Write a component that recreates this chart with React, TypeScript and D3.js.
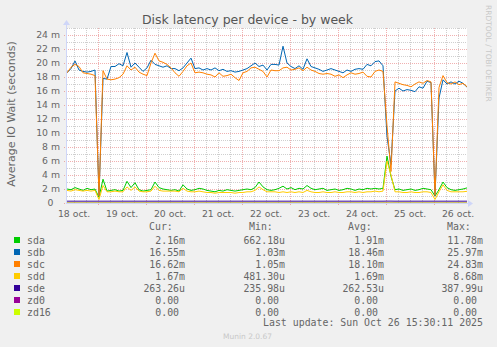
import React from 'react';
import * as d3 from 'd3';

// ---------- data (milliseconds of IO wait, 2-hour steps from 18 oct 08:30) ----------
const START = new Date(2025, 9, 18, 8, 30);
const END = new Date(2025, 9, 26, 16, 30);
const STEP_HOURS = 2;

const sda = [
  2.0, 1.9, 2.2, 2.0, 1.8, 2.1, 1.9, 2.0, 0.8, 3.4,
  1.7, 1.8, 1.9, 1.7, 1.8, 3.1, 2.2, 2.9, 1.9, 1.7,
  1.8, 1.9, 3.0, 2.2, 2.0, 1.9, 1.8, 1.9, 1.7, 2.6,
  2.0, 1.8, 1.9, 2.1, 2.0, 1.8, 1.7, 1.6, 1.8, 1.7,
  1.9, 1.8, 1.7, 1.8, 1.9, 2.0, 1.9, 2.2, 3.0, 2.3,
  1.9, 1.8, 1.9, 2.1, 2.4, 2.0, 2.2, 1.9, 2.1, 2.0,
  2.5, 2.1, 1.9, 2.0, 2.1, 1.8, 1.9, 2.0, 1.8, 1.9,
  2.1, 2.0, 1.8, 2.0, 1.9, 2.1, 2.0, 2.1, 2.0, 2.1,
  6.7, 3.8, 1.9, 2.0, 1.8, 1.9, 2.0, 1.8, 1.9, 2.1,
  2.0, 1.9, 1.0, 1.9, 3.0, 2.2, 1.9, 1.8, 1.9, 2.0,
  2.16,
];
const sdb = [
  18.6, 19.2, 20.3, 19.0, 18.8, 18.7, 18.8, 19.0, 1.03, 17.8,
  17.7, 19.5, 19.5, 19.9, 19.6, 21.5, 19.4, 20.0, 19.4, 18.8,
  19.3, 20.4, 19.8, 19.6, 19.4, 19.6, 19.2, 19.2, 18.9, 19.3,
  20.0, 20.7, 19.2, 19.3, 19.0, 19.2, 19.0, 19.3, 18.9, 19.1,
  18.8, 18.9, 18.7, 18.8, 19.0, 19.2, 19.6, 20.0, 19.5, 19.7,
  19.0, 19.8, 19.8, 19.7, 22.4, 20.0, 19.5, 19.2, 19.6, 19.1,
  20.6, 19.5, 19.3, 19.1, 18.8, 19.0, 19.2, 19.0, 18.8, 18.6,
  19.0, 18.8, 19.1, 19.2, 19.1, 19.8, 19.6, 20.2, 20.3, 19.6,
  9.5, 5.5, 16.0, 16.4, 16.0, 16.2, 16.1, 15.9, 16.6, 16.4,
  17.4, 17.2, 1.1, 15.0, 17.6, 17.0, 17.3, 17.0, 17.4, 17.1,
  16.55,
];
const sdc = [
  18.6, 19.4, 19.8, 19.5, 18.6, 18.5, 18.4, 18.2, 1.05, 18.9,
  17.7, 17.6, 17.7, 17.9, 18.4, 19.6, 19.0, 19.4, 18.7, 18.4,
  18.2, 20.0, 21.4, 20.3, 20.1, 19.8, 19.3, 18.6, 18.1, 18.8,
  19.6, 20.0, 18.6, 18.7, 18.6, 18.4, 18.3, 18.0, 18.6, 18.1,
  18.2, 18.4, 17.9, 17.5, 18.6, 18.8, 19.3, 19.4, 19.1, 18.8,
  18.0, 19.0, 18.9, 18.9, 19.3, 19.4, 19.0, 19.1, 19.3, 18.9,
  19.4, 19.0, 18.8, 18.5, 18.4, 18.5, 18.4, 18.1, 18.3, 17.9,
  18.3, 18.6, 18.4, 18.5, 18.7, 18.1, 18.0, 18.8, 19.0, 18.8,
  11.0, 4.5, 17.3, 17.1, 16.9, 16.8, 16.6, 17.0, 17.3, 17.1,
  17.5, 17.3, 1.1, 16.5, 18.2, 17.2, 17.0, 17.3, 16.9, 17.1,
  16.62,
];
const sdd = [
  1.8, 1.7, 1.9, 1.8, 1.7, 1.8, 1.7, 1.8, 0.5, 2.5,
  1.6, 1.6, 1.7, 1.6, 1.6, 2.3, 1.8, 2.3, 1.7, 1.6,
  1.6, 1.7, 2.4, 1.8, 1.7, 1.7, 1.7, 1.7, 1.6, 2.1,
  1.7, 1.6, 1.6, 1.7, 1.6, 1.5, 1.5, 1.4, 1.5, 1.5,
  1.5, 1.5, 1.4, 1.5, 1.5, 1.6, 1.6, 1.8, 2.3, 1.9,
  1.6, 1.6, 1.6, 1.5, 1.6, 1.5, 1.6, 1.5, 1.6, 1.5,
  1.8, 1.6, 1.5, 1.5, 1.6, 1.5, 1.5, 1.6, 1.5, 1.5,
  1.6, 1.6, 1.5, 1.6, 1.5, 1.6, 1.6, 1.7, 1.6, 1.7,
  6.0, 4.0, 1.6, 1.6, 1.5, 1.5, 1.6, 1.5, 1.5, 1.6,
  1.6, 1.5, 0.5, 1.6, 2.6, 1.8, 1.6, 1.6, 1.6, 1.6,
  1.67,
];
const sde = [
  0.26, 0.26, 0.26, 0.26, 0.26, 0.26, 0.26, 0.26, 0.26, 0.26,
  0.26, 0.26, 0.26, 0.26, 0.26, 0.26, 0.26, 0.26, 0.26, 0.26,
  0.26, 0.26, 0.26, 0.26, 0.26, 0.26, 0.26, 0.26, 0.26, 0.26,
  0.26, 0.26, 0.26, 0.26, 0.26, 0.26, 0.26, 0.26, 0.26, 0.26,
  0.26, 0.26, 0.26, 0.26, 0.26, 0.26, 0.26, 0.26, 0.26, 0.26,
  0.26, 0.26, 0.26, 0.26, 0.26, 0.26, 0.26, 0.26, 0.26, 0.26,
  0.26, 0.26, 0.26, 0.26, 0.26, 0.26, 0.26, 0.26, 0.26, 0.26,
  0.26, 0.26, 0.26, 0.26, 0.26, 0.26, 0.26, 0.26, 0.26, 0.26,
  0.27, 0.27, 0.26, 0.26, 0.26, 0.26, 0.26, 0.26, 0.26, 0.26,
  0.26, 0.26, 0.26, 0.26, 0.26, 0.26, 0.26, 0.26, 0.26, 0.26,
  0.26,
];
const zd0 = [
  0, 0, 0, 0, 0, 0, 0, 0, 0, 0, 0, 0, 0, 0, 0, 0, 0, 0, 0, 0,
  0, 0, 0, 0, 0, 0, 0, 0, 0, 0, 0, 0, 0, 0, 0, 0, 0, 0, 0, 0,
  0, 0, 0, 0, 0, 0, 0, 0, 0, 0, 0, 0, 0, 0, 0, 0, 0, 0, 0, 0,
  0, 0, 0, 0, 0, 0, 0, 0, 0, 0, 0, 0, 0, 0, 0, 0, 0, 0, 0, 0,
  0, 0, 0, 0, 0, 0, 0, 0, 0, 0, 0, 0, 0, 0, 0, 0, 0, 0, 0, 0,
  0,
];
const zd16 = [
  0, 0, 0, 0, 0, 0, 0, 0, 0, 0, 0, 0, 0, 0, 0, 0, 0, 0, 0, 0,
  0, 0, 0, 0, 0, 0, 0, 0, 0, 0, 0, 0, 0, 0, 0, 0, 0, 0, 0, 0,
  0, 0, 0, 0, 0, 0, 0, 0, 0, 0, 0, 0, 0, 0, 0, 0, 0, 0, 0, 0,
  0, 0, 0, 0, 0, 0, 0, 0, 0, 0, 0, 0, 0, 0, 0, 0, 0, 0, 0, 0,
  0, 0, 0, 0, 0, 0, 0, 0, 0, 0, 0, 0, 0, 0, 0, 0, 0, 0, 0, 0,
  0,
];

const deviceNames = ['sda', 'sdb', 'sdc', 'sdd', 'sde', 'zd0', 'zd16'];
const deviceColors = ['#00CC00', '#0066B3', '#FF8000', '#FFCC00', '#330099', '#990099', '#CCFF00'];
const deviceSeries = [sda, sdb, sdc, sdd, sde, zd0, zd16];
const curVals = ['2.16m', '16.55m', '16.62m', '1.67m', '263.26u', '0.00', '0.00'];
const minVals = ['662.18u', '1.03m', '1.05m', '481.30u', '235.98u', '0.00', '0.00'];
const avgVals = ['1.91m', '18.46m', '18.10m', '1.69m', '262.53u', '0.00', '0.00'];
const maxVals = ['11.78m', '25.97m', '24.83m', '8.68m', '387.99u', '0.00', '0.00'];

const yTicks = [0, 2, 4, 6, 8, 10, 12, 14, 16, 18, 20, 22, 24];
const yTickLabels = ['0', '2 m', '4 m', '6 m', '8 m', '10 m', '12 m', '14 m', '16 m', '18 m', '20 m', '22 m', '24 m'];
const Y_MAX = 25;

const TITLE = 'Disk latency per device - by week';
const Y_LABEL = 'Average IO Wait (seconds)';
const LAST_UPDATE = 'Last update: Sun Oct 26 15:30:11 2025';

// ---------- layout ----------
const W = 497, H = 347;
const PL = 67, PR = 467, PT = 28, PB = 203;
const FONT = 'DejaVu Sans, Verdana, sans-serif';
const MONO = 'DejaVu Sans Mono, monospace';
const TXT = '#666666';
const CW = 5.96;
const MINOR_GRID = 'rgba(140,140,140,0.42)';
const MAJOR_GRID = 'rgba(222,79,79,0.45)';

export default function App() {
  const times = sda.map((_, i) => d3.timeHour.offset(START, i * STEP_HOURS));
  const x = d3.scaleTime().domain([START, END]).range([PL, PR]);
  const y = d3.scaleLinear().domain([0, Y_MAX]).range([PB, PT]);

  const dayTicks = d3.timeDay.range(d3.timeDay.ceil(START), END);
  const sixHour = d3.timeHour.every(6)!.range(START, END).filter((d) => d.getHours() !== 0);
  const noonTicks = d3.timeDay.range(d3.timeDay.floor(START), END).map((d) => d3.timeHour.offset(d, 12)).filter((d) => d >= START && d <= END);
  const fmt = d3.timeFormat('%d oct.');
  const minorY = d3.range(1, Y_MAX + 1, 2);

  const line = (vals: number[]) =>
    d3.line<number>().x((_, i) => x(times[i])).y((v) => y(v))(vals) || '';

  const px = (v: number) => Math.round(v) + 0.5;
  const valueX = (colEnd: number, s: string) => (/[0-9]$/.test(s) ? colEnd - CW : colEnd);

  const cols = [
    { head: 'Cur:', headX: 149, end: 185, vals: curVals },
    { head: 'Min:', headX: 249, end: 285, vals: minVals },
    { head: 'Avg:', headX: 348, end: 384, vals: avgVals },
    { head: 'Max:', headX: 447, end: 483, vals: maxVals },
  ];

  return (
    <div style={{ position: 'absolute', left: 0, top: 0 }}>
      <svg width={W} height={H} viewBox={`0 0 ${W} ${H}`} style={{ display: 'block' }}>
        <rect x={0} y={0} width={W} height={H} fill="#F0F0F0" />
        <rect x={PL} y={PT} width={PR - PL} height={PB - PT} fill="#FFFFFF" />

        {/* minor grid */}
        {minorY.map((v) => (
          <line key={'my' + v} x1={PL} x2={PR} y1={px(y(v))} y2={px(y(v))} stroke={MINOR_GRID} strokeDasharray="1,1" />
        ))}
        {sixHour.map((d, i) => (
          <line key={'mx' + i} x1={px(x(d))} x2={px(x(d))} y1={PT} y2={PB} stroke={MINOR_GRID} strokeDasharray="1,1" />
        ))}
        {/* major grid */}
        {yTicks.map((v) => (
          <line key={'My' + v} x1={PL - 3} x2={PR} y1={px(y(v))} y2={px(y(v))} stroke={MAJOR_GRID} strokeDasharray="1,1" />
        ))}
        {dayTicks.map((d, i) => (
          <line key={'Mx' + i} x1={px(x(d))} x2={px(x(d))} y1={PT} y2={PB + 3} stroke={MAJOR_GRID} strokeDasharray="1,1" />
        ))}

        {/* series */}
        {deviceSeries.map((vals, k) => (
          <path key={deviceNames[k]} d={line(vals)} fill="none" stroke={deviceColors[k]} strokeWidth={1} />
        ))}

        {/* axes */}
        <line x1={PL - 0.5} x2={PL - 0.5} y1={PB + 1} y2={PT - 4} stroke="#CFD6F8" />
        <line x1={PL - 1} x2={PR + 2} y1={PB + 0.5} y2={PB + 0.5} stroke="#CFD6F8" />
        <path d={`M${PR + 1},${PB - 3} L${PR + 6},${PB + 0.5} L${PR + 1},${PB + 4} Z`} fill="#CFD6F8" />
        <path d={`M${PL - 4},${PT - 3} L${PL - 0.5},${PT - 8} L${PL + 3},${PT - 3} Z`} fill="#CFD6F8" />

        {/* y tick labels */}
        {yTicks.map((v, i) => (
          <text key={'yl' + v} x={v === 0 ? 53.5 : 60} y={y(v) + 3.4} textAnchor="end" fontFamily={FONT} fontSize={9.3} fill={TXT}>
            {yTickLabels[i]}
          </text>
        ))}
        {/* x tick labels */}
        {noonTicks.map((d, i) => (
          <text key={'xl' + i} x={x(d)} y={217} textAnchor="middle" fontFamily={FONT} fontSize={9.3} fill={TXT}>
            {fmt(d)}
          </text>
        ))}

        {/* title & labels */}
        <text x={247.5} y={24} textAnchor="middle" fontFamily={FONT} fontSize={12.5} fill="#555">
          {TITLE}
        </text>
        <text transform="translate(15,114) rotate(-90)" textAnchor="middle" fontFamily={FONT} fontSize={11} fill={TXT}>
          {Y_LABEL}
        </text>
        <text transform="translate(485.5,5) rotate(90)" fontFamily={FONT} fontSize={7.5} fill="#C8C8C8">
          RRDTOOL / TOBI OETIKER
        </text>

        {/* legend */}
        {cols.map((c) => (
          <text key={c.head} x={c.headX} y={230} fontFamily={MONO} fontSize={9.9} fill={TXT}>
            {c.head}
          </text>
        ))}
        {deviceNames.map((name, k) => {
          const base = 243.5 + k * 12;
          return (
            <g key={'lg' + name}>
              <rect x={14} y={base - 6.5} width={6} height={6} fill={deviceColors[k]} />
              <text x={27} y={base} fontFamily={MONO} fontSize={9.9} fill={TXT}>
                {name}
              </text>
              {cols.map((c) => (
                <text key={c.head} x={valueX(c.end, c.vals[k])} y={base} textAnchor="end" fontFamily={MONO} fontSize={9.9} fill={TXT}>
                  {c.vals[k]}
                </text>
              ))}
            </g>
          );
        })}
        <text x={483} y={326} textAnchor="end" fontFamily={MONO} fontSize={9.9} fill={TXT}>
          {LAST_UPDATE}
        </text>
        <text x={247.5} y={339} textAnchor="middle" fontFamily={FONT} fontSize={7.5} fill="#C8C8C8">
          Munin 2.0.67
        </text>
      </svg>
    </div>
  );
}
